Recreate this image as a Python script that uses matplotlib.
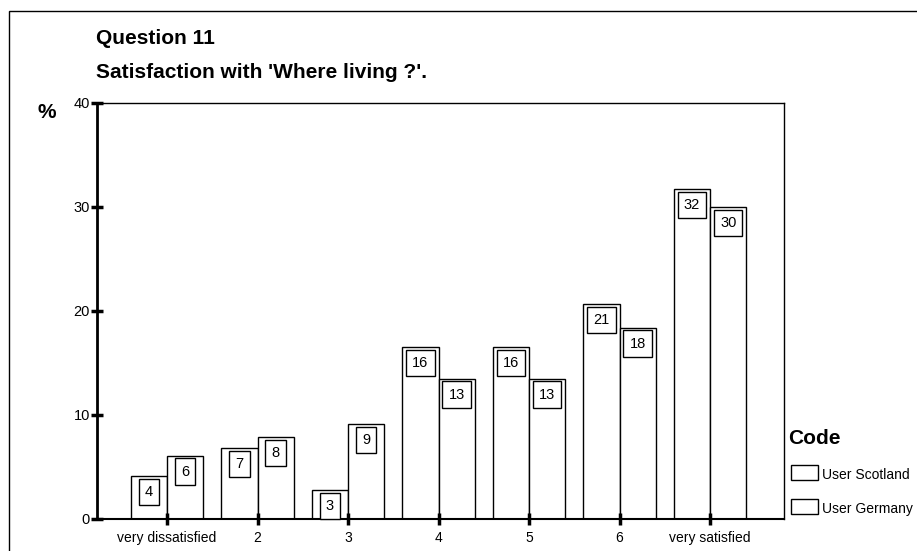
import numpy as np
import matplotlib
matplotlib.use("Agg")
import matplotlib.pyplot as plt
import matplotlib.patches as mpatches

plt.rcParams['font.family'] = ['Liberation Sans', 'DejaVu Sans']

# data
categories = ['very dissatisfied', '2', '3', '4', '5', '6', 'very satisfied']
scotland = [4.1, 6.8, 2.8, 16.5, 16.5, 20.7, 31.7]
germany = [6.1, 7.9, 9.1, 13.5, 13.5, 18.4, 30.0]
scotland_labels = [4, 7, 3, 16, 16, 21, 32]
germany_labels = [6, 8, 9, 13, 13, 18, 30]
series_names = ['User Scotland', 'User Germany']

W, H = 917, 551
fig = plt.figure(figsize=(W / 100, H / 100), dpi=100)

def fx(px):
    return px / W

def fy(py):
    return 1 - py / H

# outer frame of the scanned page
fig.patches.append(mpatches.Rectangle((fx(9), -0.1), 1.2, fy(11) + 0.1,
                                      transform=fig.transFigure, fill=False,
                                      ec='black', lw=1.0))

ax = fig.add_axes([fx(97), fy(519), fx(784) - fx(97), fy(103) - fy(519)])

x = np.arange(len(categories))
bw = 0.4
bars_s = ax.bar(x - bw / 2, scotland, bw, color='white', edgecolor='black', linewidth=1.0)
bars_g = ax.bar(x + bw / 2, germany, bw, color='white', edgecolor='black', linewidth=1.0)

# boxed value labels just under each bar top
for bars, labels in [(bars_s, scotland_labels), (bars_g, germany_labels)]:
    for bar, lab in zip(bars, labels):
        ax.annotate(str(lab), xy=(bar.get_x() + bar.get_width() / 2, bar.get_height()),
                    xytext=(0, -11.5), textcoords='offset points',
                    ha='center', va='center', fontsize=10.5,
                    bbox=dict(boxstyle='square,pad=0.42', fc='white', ec='black', lw=1.0))

ax.set_xlim(-0.774, 6.817)
ax.set_ylim(0, 40)
ax.set_yticks([0, 10, 20, 30, 40])
ax.set_xticks(x)
ax.set_xticklabels(categories, fontsize=10)
ax.tick_params(axis='y', direction='inout', length=8, width=2.5, labelsize=10.5, pad=1)
ax.tick_params(axis='x', direction='inout', length=9, width=2.5, labelsize=10, pad=4)
ax.spines['left'].set_linewidth(2)
ax.spines['bottom'].set_linewidth(1.5)
ax.spines['top'].set_linewidth(1)
ax.spines['right'].set_linewidth(1)

# titles
fig.text(fx(96), fy(38), 'Question 11', fontsize=15, fontweight='bold', va='center')
fig.text(fx(96), fy(72), "Satisfaction with 'Where living ?'.", fontsize=15,
         fontweight='bold', va='center')
fig.text(fx(37), fy(113), '%', fontsize=15, fontweight='bold', va='center')

# legend
fig.text(fx(788), fy(438), 'Code', fontsize=15, fontweight='bold', va='center')
for i, name in enumerate(series_names):
    top = 465 + i * 34
    fig.patches.append(mpatches.Rectangle((fx(791), fy(top + 15)), fx(27), 15 / H,
                                          transform=fig.transFigure, fc='white',
                                          ec='black', lw=1.0))
    fig.text(fx(822), fy(top + 10), name, fontsize=10, va='center')

plt.savefig('out.png', dpi=100)
